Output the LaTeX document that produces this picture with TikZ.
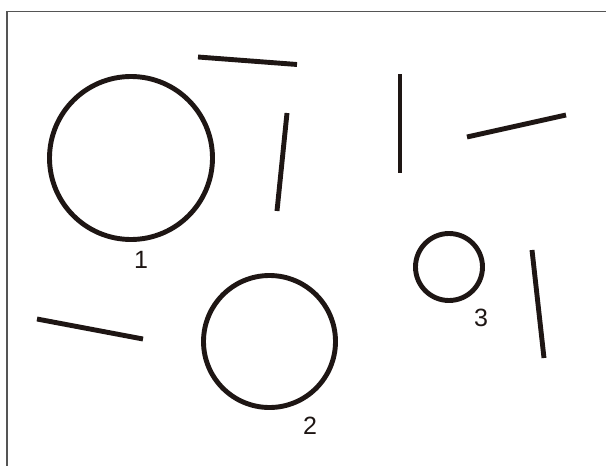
\documentclass[tikz,border=0pt]{standalone}
\usepackage{fontspec}
\setmainfont{Liberation Sans}
\definecolor{ink}{RGB}{30,22,20}
\definecolor{framegray}{RGB}{85,85,85}
\begin{document}
\begin{tikzpicture}[x=1pt,y=-1pt,
  stroke/.style={line width=4.9pt,draw=ink},
  frame/.style={line width=1.8pt,draw=framegray},
  lbl/.style={inner sep=0pt,text=ink,font=\fontsize{25}{25}\selectfont}]
\useasboundingbox[fill=white] (0,0) rectangle (606,466);
% frame (top and left edges)
\coordinate (fbl) at (7,466);
\coordinate (ftl) at (7,11.5);
\coordinate (ftr) at (606,11.5);
\draw[frame] (fbl) -- (ftl) -- (ftr);
% circles
\node[stroke,circle,minimum size=163pt,inner sep=0pt] (c1) at (131,158) {};
\node[stroke,circle,minimum size=132pt,inner sep=0pt] (c2) at (269.5,341.5) {};
\node[stroke,circle,minimum size=67pt,inner sep=0pt] (c3) at (449,267) {};
% labels
\node[lbl] (l1) at (141,260) {1};
\node[lbl] (l2) at (310,426) {2};
\node[lbl] (l3) at (481,318) {3};
% line segments
\coordinate (a1) at (198,57);  \coordinate (a2) at (297,64.5);
\coordinate (b1) at (287,113); \coordinate (b2) at (277,211);
\coordinate (d1) at (400,74);  \coordinate (d2) at (400,173);
\coordinate (e1) at (467,137); \coordinate (e2) at (566,115);
\coordinate (f1) at (37,319);  \coordinate (f2) at (143,339);
\coordinate (g1) at (532,250); \coordinate (g2) at (544,358);
\draw[stroke] (a1) -- (a2);
\draw[stroke] (b1) -- (b2);
\draw[stroke] (d1) -- (d2);
\draw[stroke] (e1) -- (e2);
\draw[stroke] (f1) -- (f2);
\draw[stroke] (g1) -- (g2);
\end{tikzpicture}
\end{document}
